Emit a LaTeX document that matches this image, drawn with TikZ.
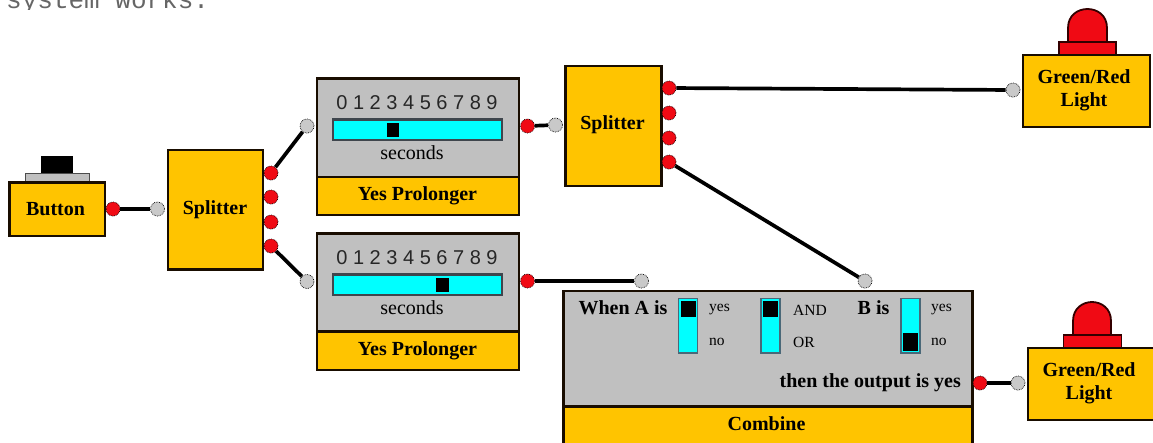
\documentclass[tikz,border=0pt]{standalone}
\usepackage{fontspec}
\setmainfont{Liberation Serif}
\newfontfamily\digitfont{Liberation Sans}
\newfontfamily\topfont{Liberation Mono}
\definecolor{amber}{HTML}{FFC400}
\definecolor{panel}{HTML}{C0C0C0}
\definecolor{aqua}{HTML}{00FFFF}
\definecolor{lamp}{HTML}{F00A14}
\tikzset{
  box/.style={draw=black!90!orange,line width=2.6pt,inner sep=0pt,outer sep=0pt,anchor=north west},
  amberbox/.style={box,fill=amber},
  panelbox/.style={box,fill=panel},
  lab/.style={inner sep=0pt,font=\fontsize{20}{23}\selectfont\bfseries},
  plain/.style={inner sep=0pt,font=\fontsize{20}{23}\selectfont},
  smalltxt/.style={inner sep=0pt,font=\fontsize{15.5}{18}\selectfont,anchor=west},
  digits/.style={inner sep=0pt,font=\fontsize{20}{23}\selectfont\digitfont,text=black!85},
  port/.style={circle,inner sep=0pt,minimum size=14pt,line width=.7pt,draw=black,densely dotted},
  outport/.style={port,fill=lamp},
  inport/.style={port,fill=panel!85!white},
  wire/.style={line width=3.7pt,black},
  track/.style={draw=black!80!cyan,fill=aqua,line width=2.4pt,inner sep=0pt,outer sep=0pt,anchor=north west},
  swtrack/.style={track,draw=black!60!cyan,line width=1.6pt,minimum width=19pt,minimum height=54.5pt},
  thumb/.style={fill=black,inner sep=0pt,outer sep=0pt},
  lampshape/.style={fill=lamp,draw=black!80!red,line width=1.8pt},
}
\begin{document}
\begin{tikzpicture}[x=1pt,y=-1pt]
\useasboundingbox (0,0) rectangle (1153,442);
\clip (0,0) rectangle (1153,442);
\fill[white] (0,0) rectangle (1153,442);
% clipped line of text above the diagram
\begin{scope}
\clip (0,0) rectangle (1153,9);
\node[inner sep=0pt,anchor=base west,text=black!60,font=\fontsize{26}{26}\selectfont\topfont] (toptext) at (6,8) {system works.};
\end{scope}
% button
\fill[black] (41,156) rectangle (73,174);
\draw[fill=panel,draw=black!70,line width=1pt] (25.5,173.5) rectangle (89.5,181);
\node[amberbox,minimum width=95.5pt,minimum height=53.5pt] (button) at (9.5,182.5) {};
\node[lab] (buttonlab) at (55.5,209) {Button};
% first splitter
\node[amberbox,minimum width=95pt,minimum height=119.5pt] (split1) at (168,150) {};
\node[lab] (split1lab) at (215,209.5) {Splitter};
% second splitter
\node[amberbox,minimum width=96pt,minimum height=120pt] (split2) at (565.5,66) {};
\node[lab] (split2lab) at (612.5,125) {Splitter};
% prolonger 1
\node[panelbox,minimum width=202pt,minimum height=98.5pt] (prol1) at (317,78.5) {};
\node[amberbox,minimum width=202pt,minimum height=38pt] (prol1foot) at (317,177) {};
\node[lab] (prol1lab) at (417.5,196) {Yes Prolonger};
\node[digits] (prol1dig) at (417,102.5) {0 1 2 3 4 5 6 7 8 9};
\node[track,minimum width=169pt,minimum height=20.5pt] (prol1bar) at (333,119.5) {};
\node[thumb,minimum width=12.5pt,minimum height=14pt] (prol1th) at (393,130) {};
\node[plain] (prol1sec) at (412,153) {seconds};
% prolonger 2
\node[panelbox,minimum width=202pt,minimum height=98pt] (prol2) at (317,233.5) {};
\node[amberbox,minimum width=202pt,minimum height=38.5pt] (prol2foot) at (317,331.5) {};
\node[lab] (prol2lab) at (417.5,350.5) {Yes Prolonger};
\node[digits] (prol2dig) at (417,257.5) {0 1 2 3 4 5 6 7 8 9};
\node[track,minimum width=169pt,minimum height=20.5pt] (prol2bar) at (333,274.5) {};
\node[thumb,minimum width=12.5pt,minimum height=14pt] (prol2th) at (442.5,284.5) {};
\node[plain] (prol2sec) at (412,308) {seconds};
% combine
\node[panelbox,minimum width=409pt,minimum height=115.5pt] (comb) at (563.5,291) {};
\node[amberbox,minimum width=409pt,minimum height=46pt] (combfoot) at (563.5,406.5) {};
\node[lab] (comblab) at (766.5,424) {Combine};
\node[lab] (whena) at (623,307.5) {When A is};
\node[lab] (bis) at (873.5,307.5) {B is};
\node[lab,anchor=east] (thenout) at (961,383) {then the output is yes};
\node[swtrack] (swa) at (678.5,298.5) {};
\node[thumb,minimum width=15pt,minimum height=16.5pt,anchor=north] (swath) at (688,300.5) {};
\node[swtrack] (swm) at (761,298.5) {};
\node[thumb,minimum width=15pt,minimum height=16.5pt,anchor=north] (swmth) at (770.5,300.5) {};
\node[swtrack] (swb) at (901,298.5) {};
\node[thumb,minimum width=15pt,minimum height=18pt,anchor=south] (swbth) at (910.5,351) {};
\node[smalltxt] (ayes) at (709,310) {yes};
\node[smalltxt] (ano) at (709,342) {no};
\node[smalltxt] (mand) at (793,310) {AND};
\node[smalltxt] (mor) at (793,342) {OR};
\node[smalltxt] (byes) at (931,310) {yes};
\node[smalltxt] (bno) at (931,342) {no};
% light 1
\draw[lampshape] (1068,43) -- (1068,28) .. controls (1068,15) and (1078,9) .. (1087.5,9) .. controls (1097,9) and (1107,15) .. (1107,28) -- (1107,43);
\draw[lampshape] (1059,55) rectangle (1116,42);
\node[amberbox,minimum width=127pt,minimum height=72pt] (light1) at (1023,55) {};
\node[lab,align=center] (light1lab) at (1084,90) {Green/Red\\Light};
% light 2
\draw[lampshape] (1073,336) -- (1073,321) .. controls (1073,308) and (1083,302) .. (1092,302) .. controls (1101,302) and (1111,308) .. (1111,321) -- (1111,336);
\draw[lampshape] (1063.5,348) rectangle (1121.5,335);
\node[amberbox,minimum width=130pt,minimum height=72pt] (light2) at (1028,348) {};
\node[lab,align=center] (light2lab) at (1089,383) {Green/Red\\Light};
% ports
\node[outport] (o0) at (113,209) {};
\node[inport] (i0) at (157.5,209) {};
\node[outport] (o1) at (271,173) {};
\node[outport] (o2) at (271,197) {};
\node[outport] (o3) at (271,222) {};
\node[outport] (o4) at (271,246) {};
\node[inport] (i1) at (307,126) {};
\node[inport] (i2) at (307,281.5) {};
\node[outport] (o5) at (527.5,126) {};
\node[inport] (i3) at (555.5,125) {};
\node[outport] (o6) at (527.5,281) {};
\node[inport] (i4) at (641.5,281) {};
\node[outport] (o7) at (669,88) {};
\node[outport] (o8) at (669,113) {};
\node[outport] (o9) at (669,138) {};
\node[outport] (o10) at (669,162) {};
\node[inport] (i5) at (1013,90) {};
\node[inport] (i6) at (865,281) {};
\node[outport] (o11) at (980,383) {};
\node[inport] (i7) at (1018,383) {};
% connectors
\draw[wire] (o0) -- (i0);
\draw[wire] (o1) -- (i1);
\draw[wire] (o4) -- (i2);
\draw[wire] (o5) -- (i3);
\draw[wire] (o6) -- (i4);
\draw[wire] (o7) -- (i5);
\draw[wire] (o10) -- (i6);
\draw[wire] (o11) -- (i7);
\end{tikzpicture}
\end{document}
